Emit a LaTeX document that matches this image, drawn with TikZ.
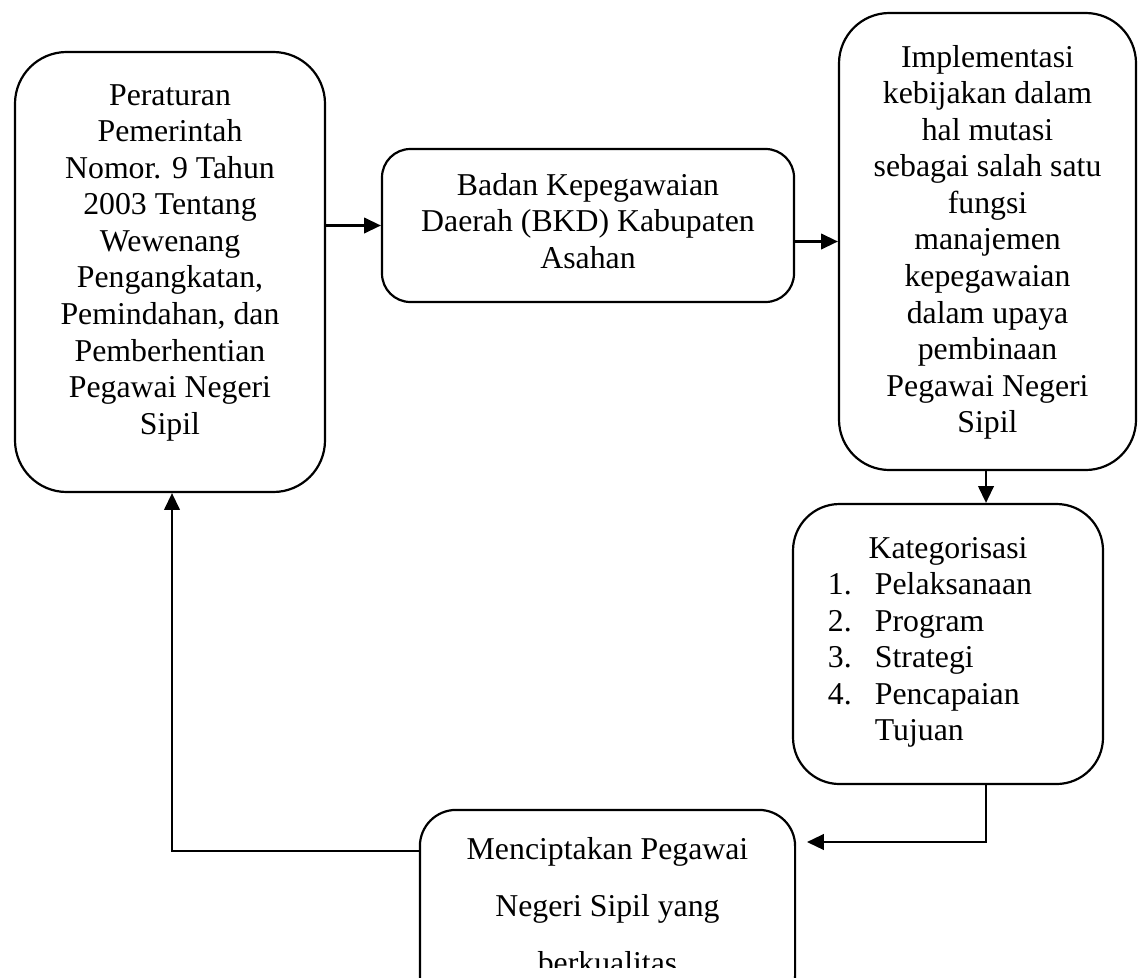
\documentclass[tikz,border=0pt]{standalone}
\usepackage{fontspec}
\setmainfont{Liberation Serif}
\usetikzlibrary{arrows.meta,calc}
\newlength{\pxu}
\setlength{\pxu}{0.387pt}
% text block of a box: width, height, first baseline (all in px), lines
\newcommand{\boxtext}[4]{\parbox[c][#2\pxu][t]{#1\pxu}{\centering
    \vspace*{\dimexpr#3\pxu-\ht\strutbox\relax}\strut#4}}
\tikzset{
  flowbox/.style={
    draw,
    line width=0.85pt,
    inner sep=0pt,
    font=\fontsize{12.3}{14.16}\selectfont
  },
  flowarrow/.style={
    line width=0.85pt,
    -{Triangle[length=6.5pt,width=6pt]}
  }
}
\begin{document}
\begin{tikzpicture}[x=0.387pt,y=-0.387pt]
  \path[use as bounding box,clip] (0,0) rectangle (1138,977);
  % boxes
  \node[flowbox,rounded corners=20pt] (rule) at (170,272) {\boxtext{310}{440}{53}{Peraturan\\
      Pemerintah\\ Nomor. 9 Tahun\\ 2003 Tentang\\ Wewenang\\ Pengangkatan,\\
      Pemindahan, dan\\ Pemberhentian\\ Pegawai Negeri\\ Sipil}};
  \node[flowbox,rounded corners=11pt] (bkd) at (588,225.5) {\boxtext{412}{153}{46}{Badan Kepegawaian\\
      Daerah (BKD) Kabupaten\\ Asahan}};
  \node[flowbox,rounded corners=19.5pt] (impl) at (987.5,241.5) {\boxtext{297}{457}{54}{Implementasi\\
      kebijakan dalam\\ hal mutasi\\ sebagai salah satu\\ fungsi\\ manajemen\\
      kepegawaian\\ dalam upaya\\ pembinaan\\ Pegawai Negeri\\ Sipil}};
  \node[flowbox,rounded corners=18pt] (kat) at (948,644) {\boxtext{310}{280}{54}{Kategorisasi\par
      \raggedright
      \hspace*{13.5pt}\makebox[18.2pt][l]{1.}Pelaksanaan\\
      \hspace*{13.5pt}\makebox[18.2pt][l]{2.}Program\\
      \hspace*{13.5pt}\makebox[18.2pt][l]{3.}Strategi\\
      \hspace*{13.5pt}\makebox[18.2pt][l]{4.}Pencapaian\\
      \hspace*{31.7pt}Tujuan}};
  \begin{scope}
    \clip (0,0) rectangle (1138,967);
    \node[flowbox,draw=none,font=\fontsize{12.3}{22.06}\selectfont] (hasil) at (607.5,911) {\boxtext{373}{200}{48}{Menciptakan Pegawai\\
        Negeri Sipil yang\\ berkualitas}};
  \end{scope}
  \draw[line width=0.85pt,rounded corners=14pt] (hasil.north west) rectangle (hasil.south east);
  % arrows
  \coordinate (turn) at (986,842);
  \coordinate (back) at (172,851);
  \draw[flowarrow] (rule.east |- bkd.west) -- (bkd.west);
  \draw[flowarrow] (bkd.east |- impl.west) -- (impl.west);
  \draw[flowarrow] (impl.south -| turn) -- (kat.north -| turn);
  \draw[flowarrow] (kat.south -| turn) |- ([xshift=4.6pt]hasil.east |- turn);
  \draw[flowarrow] (hasil.west |- back) -| (rule.south -| back);
\end{tikzpicture}
\end{document}
